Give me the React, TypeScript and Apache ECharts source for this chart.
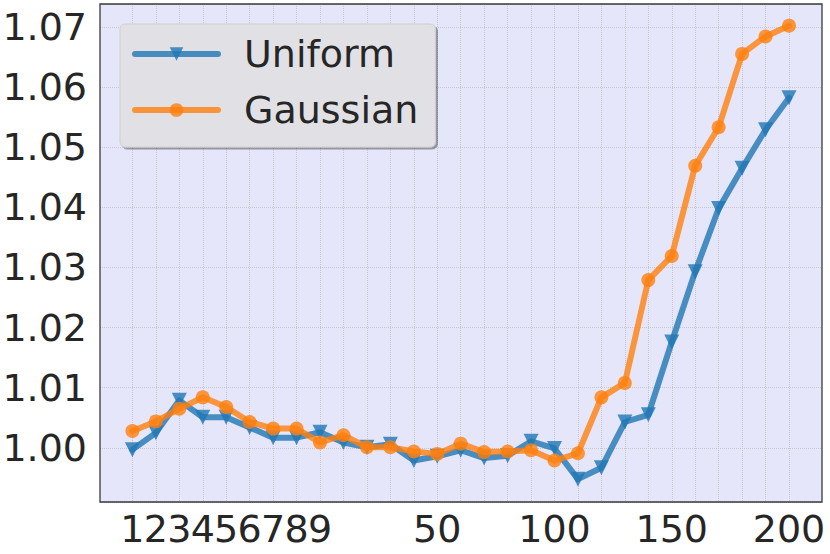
import React, { useEffect, useRef } from "react";
import * as echarts from "echarts";

const categories = [
  "1", "2", "3", "4", "5", "6", "7", "8", "9",
  "10", "20", "30", "40", "50", "60", "70", "80", "90", "100",
  "110", "120", "130", "140", "150", "160", "170", "180", "190", "200",
];
// tick labels shown under the axis (split over two label rows so none is dropped)
const xLabelsA = ["1", "3", "5", "7", "9", "50", "150"];
const xLabelsB = ["2", "4", "6", "8", "100", "200"];

const uniform = [
  0.9997, 1.0025, 1.0079, 1.0051, 1.0051, 1.0034, 1.0017, 1.0017, 1.0026,
  1.0009, 1.0001, 1.0006, 0.9979, 0.9986, 0.9996, 0.9983, 0.9987, 1.0011, 0.9999,
  0.9948, 0.9967, 1.0043, 1.0055, 1.0176, 1.0293, 1.0398, 1.0465, 1.0529, 1.0582,
];
const gaussian = [
  1.0028, 1.0044, 1.0065, 1.0084, 1.0068, 1.0043, 1.0032, 1.0032, 1.0009,
  1.0021, 1.0001, 1.0001, 0.9994, 0.999, 1.0007, 0.9993, 0.9994, 0.9996, 0.9979,
  0.9991, 1.0084, 1.0108, 1.0279, 1.0319, 1.0469, 1.0533, 1.0655, 1.0684, 1.0702,
];

const Y_MIN = 0.991;
const Y_MAX = 1.0738;

const FONT = "DejaVu Sans";
const TEXT = "#262626";
const GRID_LINE = { show: true, lineStyle: { color: "#c6c6cc", type: "dotted" as const, width: 1 } };

const labelStyle = {
  showMinLabel: true,
  showMaxLabel: true,
  hideOverlap: false,
  fontFamily: FONT,
  fontSize: 38,
  color: TEXT,
  margin: 8,
};

export default function App() {
  const ref = useRef<HTMLDivElement>(null);
  useEffect(() => {
    document.body.style.margin = "0";
    if (!ref.current) return;
    const chart = echarts.init(ref.current, null, { renderer: "svg" });
    chart.setOption({
      animation: false,
      backgroundColor: "#ffffff",
      grid: [
        {
          left: 100, top: 4, width: 722, height: 498,
          show: true, backgroundColor: "#E6E6FA", borderWidth: 0,
          outerBoundsMode: "none",
        },
        {
          left: 132.4, top: 4, width: 656.6, height: 498,
          show: false, outerBoundsMode: "none",
        },
      ],
      xAxis: [
        { gridIndex: 0, type: "value", min: 0, max: 1, show: false },
        {
          gridIndex: 1,
          type: "category",
          position: "bottom",
          data: categories,
          boundaryGap: false,
          axisLine: { show: false },
          axisTick: { show: false },
          splitLine: { ...GRID_LINE, interval: 0 },
          axisLabel: {
            ...labelStyle,
            interval: (_i: number, v: string) => xLabelsA.includes(v),
          },
        },
        {
          gridIndex: 1,
          type: "category",
          position: "bottom",
          offset: 0,
          data: categories,
          boundaryGap: false,
          axisLine: { show: false },
          axisTick: { show: false },
          splitLine: { show: false },
          axisLabel: {
            ...labelStyle,
            interval: (_i: number, v: string) => xLabelsB.includes(v),
          },
        },
      ],
      yAxis: [
        {
          gridIndex: 0,
          type: "value",
          min: Y_MIN,
          max: Y_MAX,
          splitNumber: 8,
          axisLine: { show: false },
          axisTick: { show: false },
          splitLine: GRID_LINE,
          axisLabel: {
            showMinLabel: false,
            showMaxLabel: false,
            formatter: (v: number) =>
              Math.abs(v * 100 - Math.round(v * 100)) < 1e-6 ? v.toFixed(2) : "",
            fontFamily: FONT,
            fontSize: 38,
            color: TEXT,
            margin: 13,
          },
        },
        { gridIndex: 1, type: "value", min: Y_MIN, max: Y_MAX, show: false },
      ],
      legend: {
        orient: "vertical",
        left: 120,
        top: 24,
        padding: [11, 17, 18, 12],
        itemGap: 18,
        itemWidth: 83,
        itemHeight: 17,
        backgroundColor: "#E1E1E5",
        borderColor: "#cfcfcf",
        borderWidth: 1,
        borderRadius: 5,
        shadowColor: "rgba(0,0,0,0.35)",
        shadowBlur: 1,
        shadowOffsetX: 2,
        shadowOffsetY: 2,
        lineStyle: { width: 6, cap: "round", opacity: 0.8 },
        itemStyle: { opacity: 0.8 },
        textStyle: {
          fontFamily: FONT,
          fontSize: 38,
          color: TEXT,
          padding: [0, 0, 0, 21],
        },
        data: ["Uniform", "Gaussian"],
      },
      series: [
        {
          name: "Uniform",
          type: "line",
          xAxisIndex: 1,
          yAxisIndex: 1,
          data: uniform,
          symbol: "triangle",
          symbolRotate: 180,
          symbolSize: 15,
          lineStyle: { width: 6, color: "#1f77b4", opacity: 0.8, cap: "round", join: "round" },
          itemStyle: { color: "#1f77b4", opacity: 0.8 },
          z: 3,
        },
        {
          name: "Gaussian",
          type: "line",
          xAxisIndex: 1,
          yAxisIndex: 1,
          data: gaussian,
          symbol: "circle",
          symbolSize: 14,
          lineStyle: { width: 6, color: "#ff7f0e", opacity: 0.8, cap: "round", join: "round" },
          itemStyle: { color: "#ff7f0e", opacity: 0.8 },
          z: 4,
        },
      ],
      graphic: [
        {
          type: "rect",
          shape: { x: 100, y: 4, width: 722, height: 498 },
          style: { fill: "none", stroke: "#3a3a3a", lineWidth: 1.3 },
          z: 100,
          silent: true,
        },
      ],
    });
    return () => chart.dispose();
  }, []);
  return (
    <div
      ref={ref}
      style={{ width: 830, height: 554, position: "absolute", left: 0, top: 0 }}
    />
  );
}
